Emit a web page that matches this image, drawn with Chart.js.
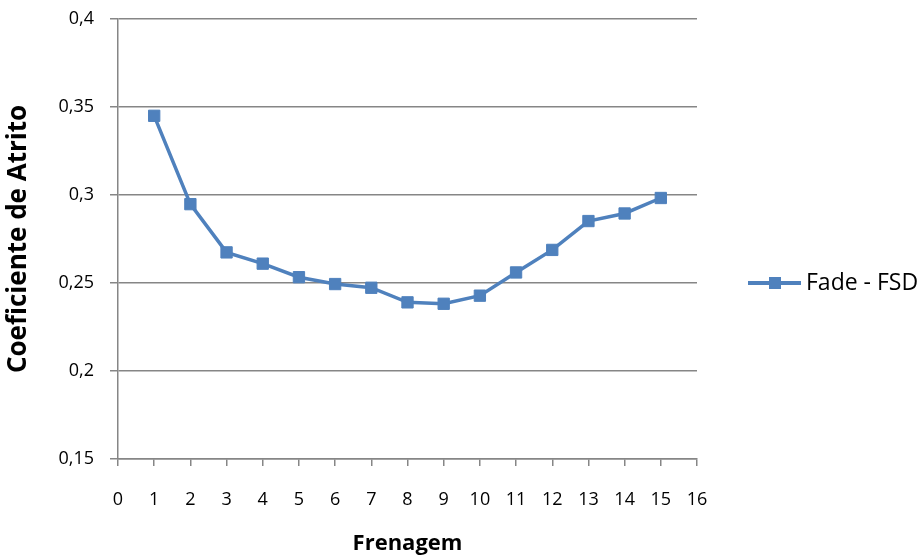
<!DOCTYPE html>
<html>
<head>
<meta charset="utf-8">
<script src="https://cdn.jsdelivr.net/npm/chart.js@4.4.1/dist/chart.umd.min.js"></script>
<style>
  html, body { margin: 0; padding: 0; background: #fff; }
  #wrap { width: 923px; height: 557px; }
</style>
</head>
<body>
<div id="wrap"><canvas id="myChart" width="923" height="557"></canvas></div>
<script>
// Data
var frenagem = [1, 2, 3, 4, 5, 6, 7, 8, 9, 10, 11, 12, 13, 14, 15];
var coeficiente = [0.345, 0.2948, 0.2674, 0.261, 0.2533, 0.2494, 0.2473, 0.239, 0.2382, 0.2428, 0.256, 0.2688, 0.2852, 0.2895, 0.2983];
var seriesName = 'Fade - FSD';
var xTitle = 'Frenagem';
var yTitle = 'Coeficiente de Atrito';

var blue = '#4F81BD';
var gridGray = '#868686';
var fontFamily = '"Open Sans", "DejaVu Sans", sans-serif';

var points = [];
for (var i = 0; i < frenagem.length; i++) {
    points.push({ x: frenagem[i], y: coeficiente[i] });
}

// legend on the right, drawn by hand
var sideLegend = {
    id: 'sideLegend',
    afterDraw: function (chart) {
        var c = chart.ctx;
        var y = 283;
        c.save();
        c.strokeStyle = blue;
        c.lineWidth = 4;
        c.beginPath();
        c.moveTo(748, y);
        c.lineTo(801, y);
        c.stroke();
        c.fillStyle = blue;
        c.fillRect(769, y - 6, 12, 12);
        c.fillStyle = '#000';
        c.font = '23px ' + fontFamily;
        c.textBaseline = 'middle';
        c.textAlign = 'left';
        c.fillText(seriesName, 806, y);
        c.restore();
    }
};

const ctx = document.getElementById('myChart').getContext('2d');
const myChart = new Chart(ctx, {
    type: 'line',
    data: {
        datasets: [{
            label: seriesName,
            data: points,
            borderColor: blue,
            backgroundColor: blue,
            borderWidth: 3.5,
            pointStyle: 'rect',
            pointRadius: 8,
            pointBorderWidth: 1,
            pointBorderColor: blue,
            pointBackgroundColor: blue,
            tension: 0
        }]
    },
    options: {
        responsive: false,
        animation: false,
        layout: { padding: { top: 19, right: 226, left: 0, bottom: 0 } },
        plugins: {
            legend: { display: false },
            tooltip: { enabled: false }
        },
        scales: {
            x: {
                type: 'linear',
                min: 0,
                max: 16,
                afterFit: function (scale) { scale.height = 98; },
                ticks: {
                    stepSize: 1,
                    color: '#000',
                    padding: 23,
                    font: { family: fontFamily, size: 18 }
                },
                grid: {
                    drawOnChartArea: false,
                    drawTicks: true,
                    tickLength: 7,
                    color: gridGray,
                    lineWidth: 1.5
                },
                border: { color: gridGray, width: 1.5 },
                title: {
                    display: true,
                    text: xTitle,
                    color: '#000',
                    padding: { top: 0, bottom: 0 },
                    font: { family: fontFamily, size: 22, weight: 'bold', lineHeight: 1.2 }
                }
            },
            y: {
                min: 0.15,
                max: 0.4,
                afterFit: function (scale) {
                    scale.width = 118;
                    // keep the tick padding from pushing the plot down
                    scale.paddingTop = 0;
                    scale.paddingBottom = 0;
                },
                ticks: {
                    stepSize: 0.05,
                    color: '#000',
                    padding: 16,
                    font: { family: fontFamily, size: 18 },
                    callback: function (v) {
                        return String(Math.round(v * 100) / 100).replace('.', ',');
                    }
                },
                grid: {
                    color: gridGray,
                    lineWidth: 1.5,
                    tickLength: 8
                },
                border: { color: gridGray, width: 1.5 },
                title: {
                    display: true,
                    text: yTitle,
                    color: '#000',
                    padding: { top: 3, bottom: 0 },
                    font: { family: fontFamily, size: 26, weight: 'bold', lineHeight: 1.2 }
                }
            }
        }
    },
    plugins: [sideLegend]
});
</script>
</body>
</html>
